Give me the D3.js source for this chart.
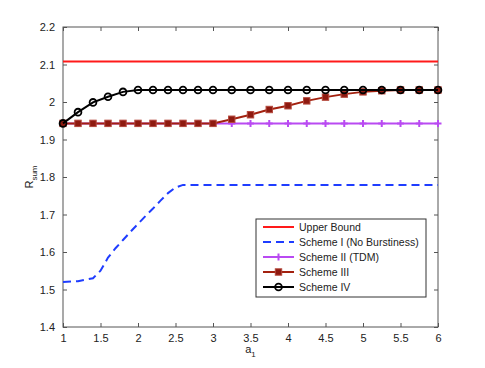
<!DOCTYPE html>
<html>
<head>
<meta charset="utf-8">
<script src="https://cdn.jsdelivr.net/npm/d3@7"></script>
<style>
  body { margin: 0; background: #fff; }
  text { font-family: "Liberation Sans", Arial, sans-serif; }
</style>
</head>
<body>
<script>
const width = 485;
const height = 368;
const margin = { top: 27, right: 47, bottom: 41, left: 63 },
    innerWidth = width - margin.left - margin.right,
    innerHeight = height - margin.top - margin.bottom;

// sample grid used by the simulated schemes
var a1 = [1, 1.2, 1.4, 1.6, 1.8, 2, 2.2, 2.4, 2.6, 2.8, 3,
    3.25, 3.5, 3.75, 4, 4.25, 4.5, 4.75, 5, 5.25, 5.5, 5.75, 6];

var upperBound = [2.108, 2.108];
var upperX = [1, 6];

var schemeIX = [1, 1.2, 1.4, 1.5, 1.6, 1.7, 1.8, 1.9, 2, 2.1, 2.2, 2.3, 2.4, 2.5, 2.6, 2.7, 3, 4, 5, 6];
var schemeI = [1.520, 1.522, 1.530, 1.550, 1.585, 1.610, 1.632, 1.654, 1.675, 1.696, 1.716, 1.737, 1.757, 1.772, 1.779, 1.779, 1.779, 1.779, 1.779, 1.779];

var schemeII = a1.map(() => 1.943);

var schemeIII = [1.943, 1.943, 1.943, 1.943, 1.943, 1.943, 1.943, 1.943, 1.943, 1.943, 1.943,
    1.954, 1.966, 1.980, 1.990, 2.003, 2.013, 2.021, 2.027, 2.030, 2.032, 2.032, 2.032];

var schemeIV = [1.943, 1.973, 1.999, 2.014, 2.027, 2.032, 2.032, 2.032, 2.032, 2.032, 2.032,
    2.032, 2.032, 2.032, 2.032, 2.032, 2.032, 2.032, 2.032, 2.032, 2.032, 2.032, 2.032];

var xTicks = [1, 1.5, 2, 2.5, 3, 3.5, 4, 4.5, 5, 5.5, 6];
var yTicks = [1.4, 1.5, 1.6, 1.7, 1.8, 1.9, 2, 2.1, 2.2];

var legendNames = ["Upper Bound", "Scheme I (No Burstiness)", "Scheme II (TDM)", "Scheme III", "Scheme IV"];

var x = d3.scaleLinear().domain([1, 6]).range([0, innerWidth]);
var y = d3.scaleLinear().domain([1.4, 2.2]).range([innerHeight, 0]);

var svg = d3.select("body").append("svg")
    .attr("width", width)
    .attr("height", height);

var g = svg.append("g")
    .attr("transform", "translate(" + margin.left + "," + margin.top + ")");

var fmt = d => String(+d.toFixed(1));
var axisColor = "#555";

// axes, ticks pointing inward on all four sides
function styleAxis(sel) {
    sel.select(".domain").remove();
    sel.selectAll("line").attr("stroke", axisColor);
    sel.selectAll("text").attr("fill", "#222").style("font-size", "11px");
}

g.append("g")
    .attr("transform", "translate(0," + innerHeight + ")")
    .call(d3.axisBottom(x).tickValues(xTicks).tickSizeInner(-4).tickSizeOuter(0).tickPadding(7).tickFormat(fmt))
    .call(styleAxis);

g.append("g")
    .call(d3.axisTop(x).tickValues(xTicks).tickSizeInner(-4).tickSizeOuter(0))
    .call(styleAxis)
    .call(a => a.selectAll("text").remove());

g.append("g")
    .call(d3.axisLeft(y).tickValues(yTicks).tickSizeInner(-4).tickSizeOuter(0).tickPadding(8).tickFormat(fmt))
    .call(styleAxis);

g.append("g")
    .attr("transform", "translate(" + innerWidth + ",0)")
    .call(d3.axisRight(y).tickValues(yTicks).tickSizeInner(-4).tickSizeOuter(0))
    .call(styleAxis)
    .call(a => a.selectAll("text").remove());

g.append("rect")
    .attr("width", innerWidth)
    .attr("height", innerHeight)
    .attr("fill", "none")
    .attr("stroke", axisColor)
    .attr("stroke-width", 1);

// axis labels
var xl = svg.append("text")
    .attr("x", margin.left + innerWidth / 2)
    .attr("y", 353)
    .attr("text-anchor", "middle")
    .style("font-size", "11px")
    .attr("fill", "#222");
xl.append("tspan").text("a");
xl.append("tspan").attr("dy", 4).style("font-size", "8px").text("1");

var yl = svg.append("text")
    .attr("transform", "translate(33," + (margin.top + innerHeight / 2) + ") rotate(-90)")
    .attr("text-anchor", "middle")
    .style("font-size", "11px")
    .attr("fill", "#222");
yl.append("tspan").text("R");
yl.append("tspan").attr("dy", 4).style("font-size", "8px").text("sum");

var line = d3.line().x(d => x(d[0])).y(d => y(d[1]));

var series = [
    { xs: upperX, ys: upperBound, color: "#ff1a1a", dash: null, marker: null },
    { xs: schemeIX, ys: schemeI, color: "#1f3dff", dash: "8,5", marker: null },
    { xs: a1, ys: schemeII, color: "#b94af2", dash: null, marker: "plus" },
    { xs: a1, ys: schemeIII, color: "#a3210f", dash: null, marker: "square" },
    { xs: a1, ys: schemeIV, color: "#000", dash: null, marker: "circle" }
];

function drawMarker(sel, s) {
    if (s.marker == "plus") {
        sel.append("path")
            .attr("d", "M-3.5,0H3.5M0,-3.5V3.5")
            .attr("stroke", s.color)
            .attr("stroke-width", 2);
    } else if (s.marker == "square") {
        sel.append("rect")
            .attr("x", -3.2).attr("y", -3.2)
            .attr("width", 6.4).attr("height", 6.4)
            .attr("fill", "#8e1a10")
            .attr("stroke", "#b5493d")
            .attr("stroke-width", 1);
    } else if (s.marker == "circle") {
        sel.append("circle")
            .attr("r", 3.4)
            .attr("fill", "none")
            .attr("stroke", s.color)
            .attr("stroke-width", 1.8);
    }
}

series.forEach(function (s) {
    var pts = s.xs.map((v, i) => [v, s.ys[i]]);
    g.append("path")
        .datum(pts)
        .attr("d", line)
        .attr("fill", "none")
        .attr("stroke", s.color)
        .attr("stroke-width", 2)
        .attr("stroke-dasharray", s.dash);
    if (s.marker) {
        g.selectAll(null)
            .data(pts)
            .enter()
            .append("g")
            .attr("transform", d => "translate(" + x(d[0]) + "," + y(d[1]) + ")")
            .each(function () { drawMarker(d3.select(this), s); });
    }
});

// legend
var lg = svg.append("g").attr("transform", "translate(256,219)");
lg.append("rect")
    .attr("width", 170)
    .attr("height", 78)
    .attr("fill", "#fff")
    .attr("stroke", "#333")
    .attr("stroke-width", 1);

series.forEach(function (s, i) {
    var row = lg.append("g").attr("transform", "translate(0," + (8 + i * 15) + ")");
    row.append("line")
        .attr("x1", 7).attr("x2", 38)
        .attr("stroke", s.color)
        .attr("stroke-width", 2)
        .attr("stroke-dasharray", s.dash);
    if (s.marker) {
        var m = row.append("g").attr("transform", "translate(22.5,0)");
        drawMarker(m, s);
    }
    row.append("text")
        .attr("x", 43)
        .attr("y", 4)
        .style("font-size", "10.5px")
        .attr("fill", "#222")
        .text(legendNames[i]);
});
</script>
</body>
</html>
